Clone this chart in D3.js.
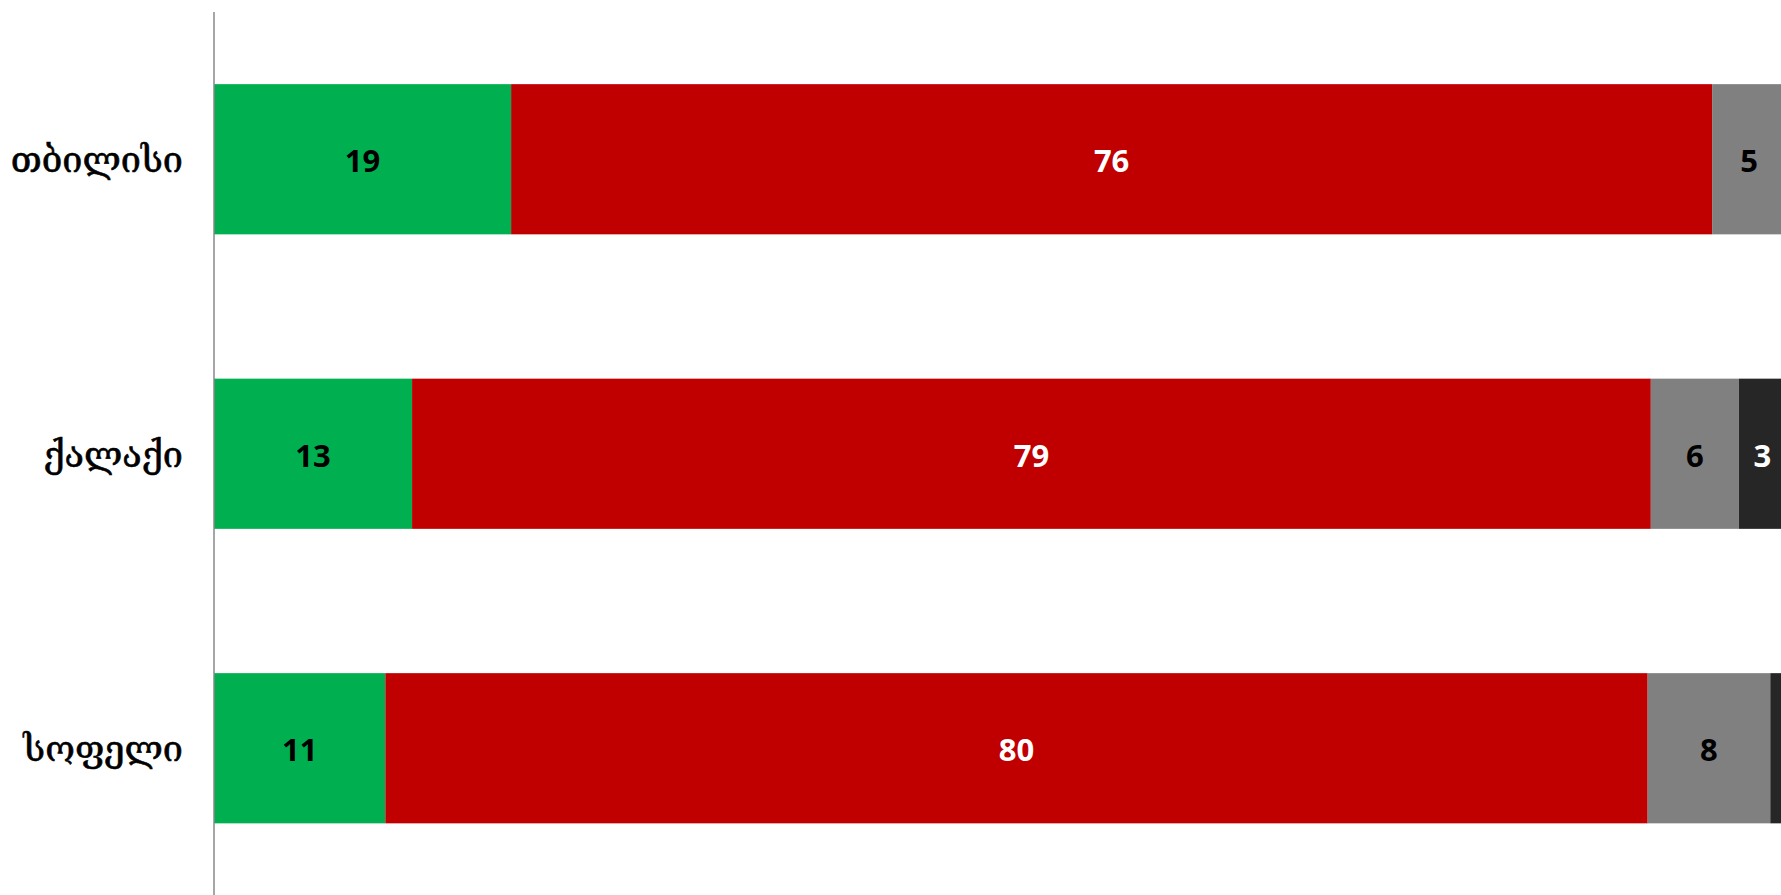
<!DOCTYPE html>
<html><head><meta charset="utf-8">
<script src="https://cdn.jsdelivr.net/npm/d3@7"></script>
<style>html,body{margin:0;padding:0;background:#fff;overflow:hidden}</style>
</head><body>
<script>
const categories = ["თბილისი", "ქალაქი", "სოფელი"];
const seriesNames = ["s1", "s2", "s3", "s4"];
const s1 = [18.9, 12.6, 10.9];
const s2 = [76.4, 78.8, 80.3];
const s3 = [4.7, 5.6, 7.8];
const s4 = [0, 3.0, 1.0];
const colors = ["#00B050", "#C00000", "#808080", "#262626"];
const labelColors = ["#000", "#fff", "#000", "#fff"];

const W = 1781, H = 895;
const svg = d3.select("body").append("svg").attr("width", W).attr("height", H);
const x = d3.scaleLinear().domain([0, 100]).range([214, 1786]);
const y = d3.scaleBand().domain(categories).range([12, 895.5]).paddingInner(0.49).paddingOuter(0.245);

const rows = categories.map((c, i) => ({cat: c, s1: s1[i], s2: s2[i], s3: s3[i], s4: s4[i]}));
const stack = d3.stack().keys(seriesNames)(rows);

stack.forEach((layer, li) => {
  const g = svg.append("g");
  g.selectAll("rect").data(layer).enter().append("rect")
    .attr("x", d => x(d[0]))
    .attr("y", d => y(d.data.cat))
    .attr("width", d => Math.max(0, x(d[1]) - x(d[0])))
    .attr("height", y.bandwidth())
    .attr("fill", colors[li]);
  g.selectAll("text").data(layer.filter(d => d[1] - d[0] >= 2)).enter().append("text")
    .attr("x", d => (x(d[0]) + x(d[1])) / 2)
    .attr("y", d => y(d.data.cat) + y.bandwidth() / 2 + 13)
    .attr("text-anchor", "middle")
    .attr("font-family", "'Open Sans', sans-serif")
    .attr("font-weight", "bold")
    .attr("font-size", 31)
    .attr("fill", labelColors[li])
    .text(d => Math.round(d[1] - d[0]));
});

const axis = svg.append("g").attr("transform", "translate(214,0)")
  .call(d3.axisLeft(y).tickSize(0).tickPadding(31));
axis.select(".domain").attr("stroke", "#888").attr("stroke-width", 1.5).attr("d", "M0,12V895");
axis.selectAll("text")
  .attr("font-family", "'DejaVu Serif', serif")
  .attr("font-size", 36)
  .attr("fill", "#000")
  .attr("stroke", "#000")
  .attr("stroke-width", 0.6)
  .attr("dy", "0.36em");
</script>
</body></html>
